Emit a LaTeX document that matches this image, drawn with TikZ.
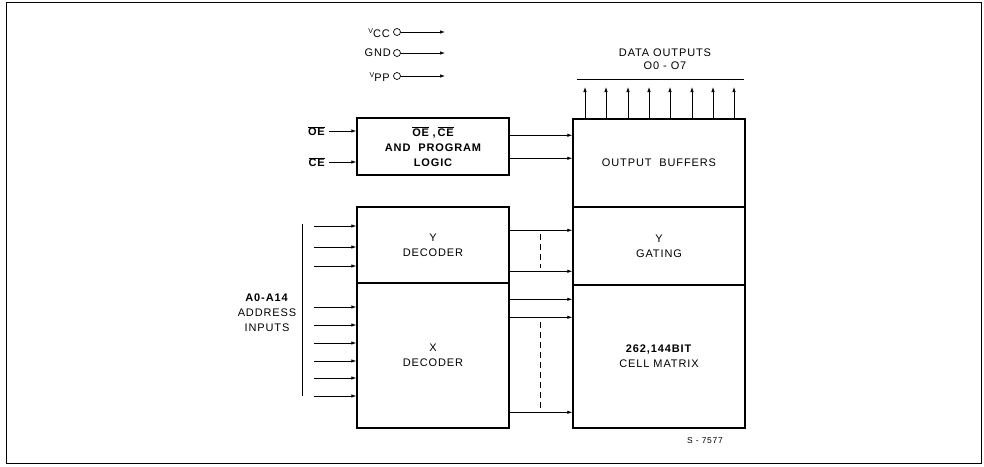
\documentclass[tikz,border=0pt]{standalone}
\usepackage{fontspec}
\setmainfont{Liberation Sans}
\newfontfamily\lsf[LetterSpace=8]{Liberation Sans}
\usetikzlibrary{arrows.meta}
\begin{document}
\begin{tikzpicture}[x=1pt,y=-1pt,
  blk/.style={draw,line width=1.5pt,inner sep=0pt,align=center,font=\lsf\fontsize{11}{15}\selectfont},
  conn/.style={line width=0.7pt,-{Latex[length=5pt,width=3.5pt]}},
  thinl/.style={line width=0.7pt},
  txt/.style={inner sep=0pt,align=center,font=\lsf\fontsize{11}{15}\selectfont},
  pin/.style={draw,circle,minimum size=7pt,inner sep=0pt,line width=0.7pt},
  dsh/.style={line width=0.6pt,dash pattern=on 6pt off 4pt}]
\useasboundingbox (0,0) rectangle (984,466);
\draw[line width=1pt] (6,2) rectangle (981,463);

% power pins
\node[txt,anchor=east] (vcc) at (390,33) {\raisebox{4pt}{\fontsize{7}{7}\selectfont V}CC};
\node[pin] (vccp) at (397,32) {};
\coordinate (vcce) at (445,32);
\draw[conn] (vccp) -- (vcce);
\node[txt,anchor=east] (gnd) at (391,53) {GND};
\node[pin] (gndp) at (397,53) {};
\coordinate (gnde) at (445,53);
\draw[conn] (gndp) -- (gnde);
\node[txt,anchor=east] (vpp) at (390,77) {\raisebox{4pt}{\fontsize{7}{7}\selectfont V}PP};
\node[pin] (vppp) at (397,76) {};
\coordinate (vppe) at (445,76);
\draw[conn] (vppp) -- (vppe);

% blocks
\node[blk,font=\lsf\bfseries\fontsize{11}{15}\selectfont,minimum width=152pt,minimum height=57pt] (logic) at (433,146.5)
  {$\overline{\mbox{OE}}$\,\,,\,$\overline{\mbox{CE}}$\\AND\ \ PROGRAM\\LOGIC};
\node[blk,minimum width=172pt,minimum height=88pt] (ob) at (659,163) {OUTPUT\ \ BUFFERS};
\node[blk,minimum width=172pt,minimum height=78pt] (yg) at (659,246) {Y\\GATING};
\node[blk,minimum width=172pt,minimum height=143pt] (cm) at (659,356.5) {\textbf{262,144BIT}\\CELL MATRIX};
\node[blk,minimum width=152pt,minimum height=76pt] (ydec) at (433,245) {Y\\DECODER};
\node[blk,minimum width=152pt,minimum height=145pt] (xdec) at (433,355.5) {X\\DECODER};

% OE / CE inputs
\node[txt,font=\lsf\bfseries\fontsize{11}{11}\selectfont,anchor=east] (oe) at (325,131) {$\overline{\mbox{OE}}$};
\node[txt,font=\lsf\bfseries\fontsize{11}{11}\selectfont,anchor=east] (ce) at (325,162) {$\overline{\mbox{CE}}$};
\draw[conn] ([xshift=4pt]oe.east) -- (oe.east -| logic.west);
\draw[conn] ([xshift=4pt]ce.east) -- (ce.east -| logic.west);

% logic to output buffers
\draw[conn] ([yshift=-18pt]logic.north east) coordinate (l1) -- (l1 -| ob.west);
\draw[conn] ([yshift=-41pt]logic.north east) coordinate (l2) -- (l2 -| ob.west);

% Y decoder to Y gating
\draw[conn] ([yshift=-24pt]ydec.north east) coordinate (y1) -- (y1 -| yg.west);
\draw[conn] ([yshift=-65pt]ydec.north east) coordinate (y2) -- (y2 -| yg.west);
\coordinate (yd1) at (540,234);
\coordinate (yd2) at (540,268);
\draw[dsh] (yd1) -- (yd2);

% X decoder to cell matrix
\draw[conn] ([yshift=-17pt]xdec.north east) coordinate (x1) -- (x1 -| cm.west);
\draw[conn] ([yshift=-35pt]xdec.north east) coordinate (x2) -- (x2 -| cm.west);
\draw[conn] ([yshift=-130pt]xdec.north east) coordinate (x3) -- (x3 -| cm.west);
\coordinate (xd1) at (540,322);
\coordinate (xd2) at (540,408);
\draw[dsh] (xd1) -- (xd2);

% address inputs
\foreach \i/\y in {1/226,2/247,3/266} {
  \coordinate (a\i) at (314,\y);
  \draw[conn] (a\i) -- (a\i -| ydec.west);
}
\foreach \i/\y in {4/307,5/325,6/343,7/361,8/378,9/396} {
  \coordinate (a\i) at (314,\y);
  \draw[conn] (a\i) -- (a\i -| xdec.west);
}
\coordinate (bt) at (302,224);
\coordinate (bb) at (302,396);
\draw[thinl] (bt) -- (bb);
\node[txt] (addr) at (267,313) {\textbf{A0-A14}\\ADDRESS\\INPUTS};

% data outputs
\foreach \i/\x in {1/585,2/606,3/628,4/649,5/670,6/692,7/713,8/734} {
  \coordinate (d\i) at (\x,87);
  \draw[conn] (d\i |- ob.north) -- (d\i);
}
\coordinate (dl) at (577,79);
\coordinate (dr) at (744,79);
\draw[thinl] (dl) -- (dr);
\node[txt,font=\lsf\fontsize{11}{13}\selectfont] (dout) at (665,59) {DATA OUTPUTS\\O0 - O7};

\node[txt,font=\lsf\fontsize{8.5}{10}\selectfont] (ref) at (705,441) {S - 7577};
\end{tikzpicture}
\end{document}
